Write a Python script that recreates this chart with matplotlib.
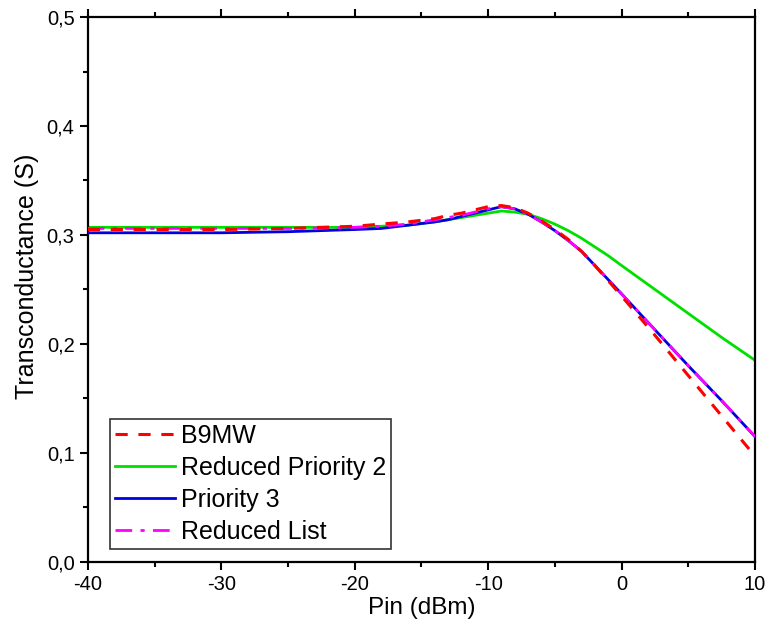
import numpy as np
import matplotlib
matplotlib.use("Agg")
import matplotlib.pyplot as plt
from matplotlib.ticker import MultipleLocator, FuncFormatter

plt.rcParams['font.family'] = ['Liberation Sans', 'DejaVu Sans']
plt.rcParams['axes.unicode_minus'] = False

# Pin (dBm)
pin = [-40, -35, -30, -25, -20, -18, -16, -14, -13, -12, -11, -10, -9, -8, -7, -6, -5, -4, -3, -2, -1,
       0, 2.5, 5, 7.5, 10]

# transconductance (S)
b9mw = [0.305, 0.305, 0.305, 0.306, 0.308, 0.310, 0.312, 0.315, 0.318, 0.320, 0.323, 0.326, 0.327, 0.325,
        0.320, 0.313, 0.305, 0.296, 0.285, 0.272, 0.258, 0.244, 0.208, 0.171, 0.134, 0.097]
red_prio2 = [0.307, 0.307, 0.307, 0.307, 0.307, 0.308, 0.309, 0.312, 0.314, 0.316, 0.318, 0.320, 0.322, 0.321,
             0.319, 0.315, 0.310, 0.304, 0.297, 0.289, 0.281, 0.272, 0.250, 0.228, 0.206, 0.185]
prio3 = [0.302, 0.302, 0.302, 0.303, 0.305, 0.306, 0.309, 0.312, 0.314, 0.317, 0.320, 0.323, 0.326, 0.324,
         0.319, 0.312, 0.304, 0.295, 0.285, 0.272, 0.259, 0.246, 0.213, 0.180, 0.148, 0.115]
red_list = [0.306, 0.306, 0.306, 0.306, 0.307, 0.308, 0.310, 0.314, 0.316, 0.318, 0.321, 0.324, 0.326, 0.324,
            0.319, 0.312, 0.304, 0.295, 0.285, 0.272, 0.259, 0.246, 0.213, 0.180, 0.148, 0.115]

fig = plt.figure(figsize=(7.7, 6.32), dpi=100)
ax = fig.add_axes([0.114, 0.111, 0.8665, 0.862])

ax.plot(pin, red_prio2, color='#00e000', lw=2, label='Reduced Priority 2', zorder=2)
ax.plot(pin, prio3, color='#0000e0', lw=2, label='Priority 3', zorder=3)
ax.plot(pin, red_list, color='#ff00ff', lw=2, ls=(0, (6, 3, 1.5, 3)), label='Reduced List', zorder=4)
ax.plot(pin, b9mw, color='#ff0000', lw=2.2, ls=(0, (4, 3.5)), label='B9MW', zorder=5)

ax.set_xlim(-40, 10)
ax.set_ylim(0, 0.5)
ax.xaxis.set_major_locator(MultipleLocator(10))
ax.xaxis.set_minor_locator(MultipleLocator(5))
ax.yaxis.set_major_locator(MultipleLocator(0.1))
ax.yaxis.set_minor_locator(MultipleLocator(0.05))
ax.yaxis.set_major_formatter(FuncFormatter(lambda v, p: f"{v:.1f}".replace('.', ',')))

ax.tick_params(which='both', direction='out', top=True, right=False, width=1.5, labelsize=14.5)
ax.tick_params(which='major', length=6)
ax.tick_params(which='minor', length=3.5)
for s in ax.spines.values():
    s.set_linewidth(1.6)

ax.set_xlabel('Pin (dBm)', fontsize=17.5, labelpad=2)
ax.set_ylabel('Transconductance (S)', fontsize=18)
ax.yaxis.set_label_coords(-0.073, 0.525)

h, l = ax.get_legend_handles_labels()
order = [3, 0, 1, 2]
leg = ax.legend([h[i] for i in order], [l[i] for i in order], loc='lower left',
                bbox_to_anchor=(0.033, 0.024), fontsize=18, handlelength=2.4,
                fancybox=False, edgecolor='#333333', framealpha=1,
                borderpad=0.2, labelspacing=0.32, handletextpad=0.25, borderaxespad=0)
leg.get_frame().set_linewidth(1.2)

fig.savefig('out.png', dpi=100)
